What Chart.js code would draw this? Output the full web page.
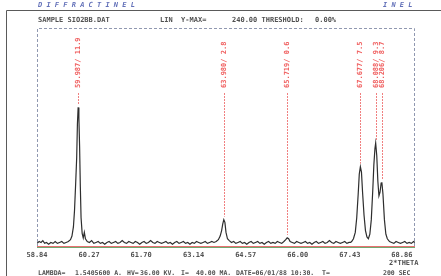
<!DOCTYPE html>
<html>
<head>
<meta charset="utf-8">
<script src="https://cdn.jsdelivr.net/npm/chart.js@4.4.0/dist/chart.umd.min.js"></script>
<style>
  body { margin: 0; background: #fff; }
  canvas { display: block; }
</style>
</head>
<body>
<canvas id="myChart" width="441" height="276"></canvas>
<script>

// scan: 2-theta (deg) and counts
var twoTheta = [
  58.84, 58.90, 58.95, 59.00, 59.05, 59.10, 59.16, 59.22, 59.28, 59.34, 59.40, 59.46, 59.52, 59.58, 59.64, 59.70,
  59.76, 59.80, 59.84, 59.87, 59.90, 59.93, 59.95, 59.97, 59.99, 60.01, 60.03, 60.05, 60.08, 60.11, 60.14, 60.17,
  60.22, 60.28, 60.34, 60.40, 60.46, 60.52, 60.58, 60.64, 60.70, 60.76, 60.82, 60.88, 60.94, 61.00, 61.06, 61.12,
  61.18, 61.24, 61.30, 61.36, 61.42, 61.48, 61.54, 61.60, 61.66, 61.72, 61.78, 61.84, 61.90, 61.96, 62.02, 62.08,
  62.14, 62.20, 62.26, 62.32, 62.38, 62.44, 62.50, 62.56, 62.62, 62.68, 62.74, 62.80, 62.86, 62.92, 62.98, 63.04,
  63.10, 63.16, 63.22, 63.28, 63.34, 63.40, 63.46, 63.52, 63.58, 63.64, 63.70, 63.76, 63.82, 63.87, 63.91, 63.94,
  63.97, 64.00, 64.03, 64.07, 64.12, 64.18, 64.24, 64.30, 64.36, 64.42, 64.48, 64.54, 64.60, 64.66, 64.72, 64.78,
  64.84, 64.90, 64.96, 65.02, 65.08, 65.14, 65.20, 65.26, 65.32, 65.38, 65.44, 65.50, 65.56, 65.62, 65.67, 65.71,
  65.75, 65.79, 65.85, 65.91, 65.97, 66.03, 66.09, 66.15, 66.21, 66.27, 66.33, 66.39, 66.45, 66.51, 66.57, 66.63,
  66.69, 66.75, 66.81, 66.87, 66.93, 66.99, 67.05, 67.11, 67.17, 67.23, 67.29, 67.35, 67.41, 67.45, 67.48, 67.53,
  67.58, 67.62, 67.66, 67.69, 67.72, 67.75, 67.78, 67.82, 67.86, 67.90, 67.94, 67.98, 68.02, 68.06, 68.09, 68.12,
  68.14, 68.17, 68.20, 68.23, 68.26, 68.29, 68.31, 68.34, 68.38, 68.42, 68.46, 68.52, 68.58, 68.64, 68.70, 68.76,
  68.82, 68.88, 68.94, 69.00, 69.06, 69.12, 69.18, 69.22
];
var counts = [
  4, 6, 5, 7, 4, 5, 3, 5, 4, 6, 4, 5, 6, 4, 5, 6,
  8, 12, 22, 40, 68, 98, 135, 153, 142, 110, 66, 32, 15, 10, 16, 9,
  6, 5, 7, 4, 5, 6, 4, 5, 3, 5, 6, 4, 5, 6, 4, 5,
  7, 5, 4, 6, 5, 4, 6, 5, 3, 5, 6, 4, 5, 7, 5, 4,
  6, 5, 4, 5, 6, 4, 5, 3, 5, 6, 4, 5, 6, 4, 5, 3,
  5, 4, 6, 5, 4, 5, 6, 4, 5, 6, 5, 6, 8, 12, 18, 25,
  30, 27, 16, 9, 7, 5, 6, 4, 5, 6, 4, 5, 3, 5, 6, 4,
  5, 6, 4, 5, 3, 5, 6, 4, 5, 4, 6, 5, 4, 6, 8, 10,
  9, 6, 5, 4, 6, 5, 4, 5, 6, 4, 5, 3, 5, 6, 4, 5,
  6, 4, 5, 7, 5, 4, 6, 5, 4, 5, 6, 4, 5, 5, 6, 9,
  16, 32, 58, 80, 88, 82, 60, 35, 18, 11, 9, 14, 30, 62, 90, 108,
  114, 100, 72, 56, 60, 70, 71, 58, 30, 14, 9, 6, 5, 4, 6, 5,
  4, 5, 6, 4, 5, 4, 6, 5
];

var tickValues = [58.84, 60.27, 61.70, 63.14, 64.57, 66.00, 67.43, 68.86];

// peak markers
var peakPos = [59.97, 63.97, 65.71, 67.72, 68.14, 68.31];
var peakHeights = [153, 30, 10, 88, 114, 71];
var peakLabels = ['59.987/ 11.9', '63.980/ 2.8', '65.719/ 0.6', '67.677/ 7.5', '68.088/ 9.3', '68.206/ 8.7'];

var points = twoTheta.map(function (t, i) { return { x: t, y: counts[i] }; });

var MONO = '"DejaVu Sans Mono", "Liberation Mono", monospace';

var scanDecor = {
    id: 'scanDecor',
    beforeDraw: function (chart) {
        var c = chart.ctx;
        c.save();
        c.fillStyle = '#ffffff';
        c.fillRect(0, 0, chart.width, chart.height);
        c.restore();
    },
    afterDraw: function (chart) {
        var c = chart.ctx;
        var a = chart.chartArea;
        var xs = chart.scales.x, ys = chart.scales.y;
        c.save();

        // page frame
        c.strokeStyle = '#5a5a5a';
        c.lineWidth = 1;
        c.beginPath();
        c.moveTo(6.5, 276); c.lineTo(6.5, 10.5); c.lineTo(441, 10.5);
        c.stroke();

        // plot frame
        c.strokeStyle = '#9098b0';
        c.setLineDash([3, 2]);
        c.beginPath();
        c.moveTo(a.left + 0.5, a.bottom); c.lineTo(a.left + 0.5, a.top + 0.5);
        c.lineTo(a.right - 0.5, a.top + 0.5); c.lineTo(a.right - 0.5, a.bottom);
        c.stroke();
        c.setLineDash([]);
        c.strokeStyle = '#e87070';
        c.beginPath(); c.moveTo(a.left, a.bottom - 0.5); c.lineTo(a.right, a.bottom - 0.5); c.stroke();
        c.strokeStyle = '#70a870';
        c.beginPath(); c.moveTo(a.left, a.bottom + 0.5); c.lineTo(a.right, a.bottom + 0.5); c.stroke();

        // header
        c.textBaseline = 'middle';
        c.textAlign = 'left';
        c.fillStyle = '#6270b8';
        c.font = 'italic bold 7px ' + MONO;
        c.fillText('D I F F R A C T I N E L', 38, 5);
        c.fillText('I N E L', 383, 5);
        c.fillStyle = '#505050';
        c.font = 'bold 7px ' + MONO;
        c.fillText('SAMPLE SIO2BB.DAT', 38, 20.5);
        c.fillText('LIN  Y-MAX=', 160, 20.5);
        c.fillText('240.00 THRESHOLD:', 232, 20.5);
        c.fillText('0.00%', 315, 20.5);

        // peak markers and labels
        c.strokeStyle = '#f08080';
        c.fillStyle = '#f06060';
        c.setLineDash([2, 1]);
        for (var i = 0; i < peakPos.length; i++) {
            var px = Math.round(xs.getPixelForValue(peakPos[i])) + 0.5;
            var py = ys.getPixelForValue(peakHeights[i]) - 3;
            c.beginPath(); c.moveTo(px, 93); c.lineTo(px, py); c.stroke();
            c.save();
            c.translate(px, 88);
            c.rotate(-Math.PI / 2);
            c.textAlign = 'left';
            c.textBaseline = 'middle';
            c.fillText(peakLabels[i], 0, 0);
            c.restore();
        }
        c.setLineDash([]);

        // axis title and footer
        c.fillStyle = '#505050';
        c.font = 'bold 7px ' + MONO;
        c.fillText('2*THETA', 389, 263.5);
        c.font = 'bold 6.5px ' + MONO;
        var y = 273;
        c.fillText('LAMBDA=', 38, y);
        c.fillText('1.5405600 A.', 75, y);
        c.fillText('HV=', 127, y);
        c.fillText('36.00 KV.', 140, y);
        c.fillText('I=', 181, y);
        c.fillText('40.00 MA.', 196, y);
        c.fillText('DATE=06/01/88 10:30.', 236, y);
        c.fillText('T=', 322, y);
        c.fillText('200 SEC', 383, y);

        c.restore();
    }
};

function viewChart() {
    var ctx = document.getElementById('myChart').getContext('2d');
    var chart = new Chart(ctx, {
        type: 'line',
        data: {
            datasets: [{
                data: points,
                borderColor: '#2e2e2e',
                borderWidth: 1.2,
                pointRadius: 0,
                tension: 0,
                fill: false
            }]
        },
        options: {
            responsive: false,
            animation: false,
            devicePixelRatio: 1,
            layout: { padding: { left: 37, right: 26, top: 28, bottom: 0 } },
            plugins: { legend: { display: false }, tooltip: { enabled: false } },
            scales: {
                x: {
                    type: 'linear',
                    min: 58.84,
                    max: 69.22,
                    afterBuildTicks: function (s) {
                        s.ticks = tickValues.map(function (v) { return { value: v }; });
                    },
                    afterFit: function (s) { s.height = 29; },
                    grid: { display: false, drawTicks: false },
                    border: { display: false },
                    ticks: {
                        autoSkip: false,
                        maxRotation: 0,
                        padding: 4,
                        color: '#505050',
                        font: { family: MONO, size: 7, weight: 'bold' },
                        callback: function (v) { return Number(v).toFixed(2); }
                    }
                },
                y: { display: false, min: 0, max: 240 }
            }
        },
        plugins: [scanDecor]
    });
}
viewChart();
</script>
</body>
</html>
